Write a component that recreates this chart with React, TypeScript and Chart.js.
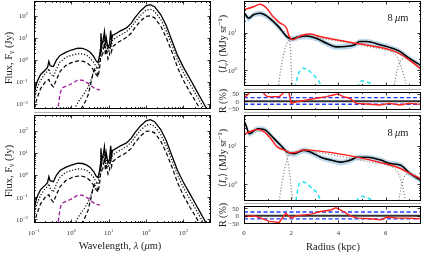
import React, { useEffect, useRef } from 'react';
import { Chart, registerables } from 'chart.js';
Chart.register(...registerables);

// ---------------- SED panels (left) ----------------
const wavelength = [0.1, 0.12, 0.15, 0.2, 0.23, 0.25, 0.27, 0.33, 0.4, 0.5, 0.7, 1, 1.5, 2, 2.6, 3.2, 4, 4.6, 5.2, 5.7, 6.0, 6.2, 6.6, 7, 7.7, 8.2, 8.6, 9.6, 10.5, 11.3, 12, 12.7, 14, 17, 20, 25, 30, 40, 50, 70, 100, 130, 170, 250, 350, 500, 700, 1000, 1500, 2000, 3000, 4000, 5000];
const fluxTotal = [0.03, 0.1, 0.22, 0.35, 0.45, 0.85, 0.55, 0.5, 1.0, 1.6, 2.2, 2.8, 3.4, 3.3, 2.8, 2.2, 1.4, 0.9, 0.75, 1.6, 3, 16, 5, 6.5, 19, 5, 10, 3.5, 5, 21, 8, 13, 14, 17, 20, 24, 28, 45, 80, 160, 280, 316, 255, 110, 35, 7, 1.6, 0.47, 0.14, 0.059, 0.017, 0.0072, 0.0037];
const fluxDotted = [0.016, 0.05, 0.12, 0.25, 0.3, 0.4, 0.25, 0.17, 0.4, 0.8, 1.3, 1.6, 1.9, 1.85, 1.6, 1.2, 0.75, 0.5, 0.4, 0.9, 1.9, 10, 3.2, 4.2, 11, 3.2, 6.3, 2.2, 3.2, 12, 5, 8, 9, 11, 13, 16, 19, 30, 50, 100, 178, 195, 158, 66, 20, 4.5, 1.0, 0.27, 0.08, 0.035, 0.0105, 0.0045, 0.0022];
const fluxDashed = [0.006, 0.018, 0.05, 0.1, 0.12, 0.13, 0.09, 0.06, 0.13, 0.3, 0.55, 0.75, 0.9, 0.88, 0.75, 0.55, 0.33, 0.22, 0.17, 0.4, 0.9, 4.5, 1.6, 2.0, 5.5, 1.6, 3.2, 1.1, 1.6, 6, 2.5, 4, 4.5, 6, 7, 8.5, 10.5, 16, 28, 56, 93, 98, 80, 33, 10, 2.2, 0.45, 0.12, 0.035, 0.016, 0.005, 0.0022, 0.0012];
const hotDotWave = [1.2, 1.6, 2.2, 2.9, 3.5, 4.0, 4.5, 5.0];
const hotDotFlux = [0.006, 0.014, 0.03, 0.063, 0.15, 0.35, 0.45, 0.4];
const hotDashWave = [1.8, 2.2, 2.8, 3.3, 3.7, 4.2, 4.8, 5.2];
const hotDashFlux = [0.006, 0.01, 0.025, 0.08, 0.2, 0.35, 0.3, 0.2];
const stellarWave = [0.42, 0.45, 0.5, 0.55, 0.65, 0.75, 0.9, 1.1, 1.5, 2.0, 2.4, 3.0, 3.8, 4.5, 5.8];
const stellarFlux = [0.004, 0.009, 0.03, 0.052, 0.06, 0.066, 0.075, 0.09, 0.125, 0.12, 0.105, 0.08, 0.058, 0.048, 0.044];

const waveMajor = [0.1, 1, 10, 100, 1000];
const fluxMajor = [0.01, 0.1, 1, 10, 100];

// ---------------- Radial profile panels (right) ----------------
const radiusObsTop = [0, 0.2, 0.4, 0.7, 1.0, 1.25, 1.5, 1.8, 2.0, 2.3, 2.65, 3.05, 3.5, 3.9, 4.3, 4.7, 4.9, 5.2, 5.75, 6.25, 6.6, 7.0, 7.5];
const obsTop = [34, 24, 29.5, 32.4, 26.3, 19.5, 13.5, 7.9, 6.8, 7.6, 8.1, 7.1, 5.2, 4.2, 4.3, 4.8, 5.8, 5.8, 4.8, 3.9, 3.2, 2.1, 1.35];
const errTop = [5.5, 4, 5, 5.5, 4.5, 3.3, 2.3, 1.3, 1.1, 1.3, 1.4, 1.2, 0.9, 0.7, 0.75, 0.85, 1.0, 1.0, 0.8, 0.65, 0.55, 0.35, 0.23];
const radiusModTop = [0, 0.4, 0.68, 0.96, 1.24, 1.52, 1.8, 1.91, 2.08, 2.37, 2.79, 3.21, 4.76, 6.2, 6.6, 7.0, 7.5];
const modTop = [40, 48, 56, 44, 26, 18, 13.2, 8.1, 6.5, 8.1, 9.1, 7.9, 5.2, 3.5, 2.75, 1.9, 1.1];
const radiusInnerTop = [1.7, 1.85, 1.94, 1.98, 2.01, 2.05];
const innerTop = [11, 7.5, 6.5, 2.5, 1.0, 0.35];
const radiusDiskTop = [1.45, 1.55, 1.65, 1.75, 1.85, 1.95, 2.2, 2.6, 3.0, 4.0, 5.0, 5.5, 6.0, 6.3, 6.5, 6.65, 6.8, 6.9];
const diskTop = [0.35, 1.0, 2.2, 4.0, 5.75, 6.9, 7.6, 7.9, 7.4, 5.9, 4.6, 4.0, 3.5, 2.95, 2.2, 1.26, 0.63, 0.35];
const radiusOuterTop = [6.35, 6.45, 6.55, 6.7, 6.85, 7.0, 7.25, 7.5];
const outerTop = [0.35, 0.8, 1.4, 2.0, 2.15, 1.86, 1.4, 1.05];
const radiusCyanATop = [2.15, 2.3, 2.4, 2.5, 2.65, 2.8, 3.0, 3.15, 3.3];
const cyanATop = [0.35, 0.8, 1.05, 1.15, 1.1, 0.93, 0.7, 0.54, 0.38];
const radiusCyanBTop = [4.8, 4.9, 5.04, 5.2, 5.35, 5.5];
const cyanBTop = [0.35, 0.48, 0.54, 0.5, 0.46, 0.38];
const radiusResTop = [0, 0.15, 0.3, 0.6, 0.8, 0.95, 1.1, 1.5, 1.66, 1.8, 1.91, 2.0, 2.22, 2.6, 3.07, 3.5, 3.78, 3.99, 4.2, 4.48, 4.76, 5.18, 5.75, 6.17, 6.6, 7.0, 7.5];
const resTop = [20, 45, 70, 75, 60, 35, 30, 32, 55, 75, 55, -14, -3, 8, 21, 32, 43, 50, 32, 21, -14, -18, -25, -14, -25, -14, -21];

const radiusObsBot = [0, 0.08, 0.23, 0.58, 0.86, 1.14, 1.42, 1.63, 1.84, 2.12, 2.54, 2.83, 3.25, 3.68, 4.1, 4.52, 4.8, 5.22, 5.79, 6.2, 6.62, 7.05, 7.5];
const obsBot = [45, 35, 21, 28, 27, 19, 12.6, 9.3, 6.9, 6.3, 7.8, 6.9, 5.1, 4.3, 3.8, 4.3, 5.1, 5.1, 4.3, 3.5, 3.2, 1.9, 1.26];
const errBot = [7.5, 6, 3.5, 4.8, 4.6, 3.2, 2.1, 1.6, 1.2, 1.1, 1.3, 1.2, 0.85, 0.75, 0.65, 0.75, 0.85, 0.85, 0.75, 0.6, 0.55, 0.32, 0.21];
const radiusModBot = [0, 0.23, 0.58, 0.86, 1.14, 1.42, 1.7, 1.98, 2.2, 2.54, 2.83, 6.2, 6.62, 7.05, 7.5];
const modBot = [20, 23.4, 27, 23.4, 15.5, 9.3, 7.9, 6.6, 6.9, 7.9, 7.8, 3.2, 2.6, 1.9, 1.4];
const radiusInnerBot = [1.6, 1.77, 1.86, 1.94, 2.0, 2.06];
const innerBot = [8.5, 6.9, 4.0, 1.8, 0.8, 0.36];
const radiusDiskBot = [1.49, 1.6, 1.7, 1.8, 1.91, 2.1, 2.5, 2.9, 4, 5, 5.6, 6.1, 6.4, 6.6, 6.72, 6.84];
const diskBot = [0.38, 1.0, 2.2, 4.0, 6.0, 6.6, 7.4, 7.2, 5.5, 4.2, 3.6, 3.2, 2.5, 1.6, 0.9, 0.38];
const radiusOuterBot = [6.56, 6.65, 6.75, 6.9, 7.05, 7.25, 7.5];
const outerBot = [0.38, 0.8, 1.4, 1.85, 1.85, 1.6, 1.3];
const radiusCyanABot = [2.2, 2.34, 2.48, 2.65, 2.83, 3.0, 3.11, 3.25];
const cyanABot = [0.38, 1.05, 1.15, 1.07, 0.85, 0.69, 0.58, 0.38];
const radiusCyanBBot = [4.75, 4.85, 5.01, 5.22, 5.38, 5.5];
const cyanBBot = [0.36, 0.43, 0.49, 0.45, 0.4, 0.38];
const radiusResBot = [0, 0.08, 0.44, 0.72, 1.07, 1.49, 1.77, 2.0, 2.2, 2.83, 3.25, 3.68, 3.89, 4.1, 4.52, 4.8, 5.37, 5.79, 6.07, 6.5, 6.92, 7.5];
const resBot = [-4, -4, 0, -15, -36, -43, 17, -15, 0, 11, 28, 38, 53, 38, 0, -15, -19, -26, -8, -15, -15, -19];

const radiusMajor = [0, 2, 4, 6];
const radiusMinor = [1, 3, 5, 7];
const intensityMajor = [1, 10];
const residualTicks = [-50, 0, 50];
const residualLimits = [25, -20];
const radiusRange = [0, 7.5];

// ---------------- drawing helpers ----------------
const W = 422, H = 253;
const SERIF = '"Liberation Serif", "DejaVu Serif", serif';
const TICK_SIZE = 6.8;
const TICK_COLOR = '#333';
const TEXT_COLOR = '#1a1a1a';

type Part = { t: string; s?: 'sub' | 'sup'; i?: boolean };

function drawRich(ctx: CanvasRenderingContext2D, parts: Part[], x: number, y: number, size: number, rot: number, align: string, color: string) {
  ctx.save();
  ctx.translate(x, y);
  if (rot) ctx.rotate(rot);
  const font = (p: Part) => `${p.i ? 'italic ' : ''}${p.s ? (size * 0.7).toFixed(1) : size}px ${SERIF}`;
  const ws = parts.map((p) => { ctx.font = font(p); return ctx.measureText(p.t).width; });
  const total = ws.reduce((a, b) => a + b, 0);
  let cx = align === 'center' ? -total / 2 : align === 'right' ? -total : 0;
  ctx.textBaseline = 'alphabetic';
  ctx.textAlign = 'left';
  ctx.fillStyle = color;
  const base = size * 0.35;
  parts.forEach((p, i) => {
    ctx.font = font(p);
    const dy = p.s === 'sub' ? size * 0.22 : p.s === 'sup' ? -size * 0.4 : 0;
    ctx.fillText(p.t, cx, base + dy);
    cx += ws[i];
  });
  ctx.restore();
}

function minorLog(lo: number, hi: number) {
  const out: number[] = [];
  for (let e = Math.floor(Math.log10(lo)); e <= Math.ceil(Math.log10(hi)); e++) {
    for (let k = 2; k <= 9; k++) {
      const v = k * Math.pow(10, e);
      if (v > lo && v < hi) out.push(v);
    }
  }
  return out;
}

const minus = (n: number) => (n < 0 ? '\u2212' + Math.abs(n) : String(n));
function fmtTick(v: number, log: boolean): Part[] {
  if (log) return [{ t: '10' }, { t: minus(Math.round(Math.log10(v))), s: 'sup' }];
  return [{ t: minus(v) }];
}

const decorPlugin = {
  id: 'decor',
  afterDatasetsDraw(chart: any, _a: any, o: any) {
    const ctx = chart.ctx as CanvasRenderingContext2D;
    const a = chart.chartArea;
    const xs = chart.scales.x, ys = chart.scales.y;
    const L = a.left, R = a.right, T = a.top, B = a.bottom;
    ctx.save();
    const seg = (x1: number, y1: number, x2: number, y2: number) => { ctx.beginPath(); ctx.moveTo(x1, y1); ctx.lineTo(x2, y2); ctx.stroke(); };
    for (const h of o.hlines || []) { ctx.strokeStyle = h.c; ctx.lineWidth = 1; seg(h.x1, h.y + 0.5, h.x2, h.y + 0.5); }
    ctx.strokeStyle = '#000';
    ctx.lineWidth = 0.8;
    const list = (s: any) => [...s.major.map((v: number) => [v, 3.5]), ...s.minor.map((v: number) => [v, 2])];
    for (const [v, len] of list(o.xAxis)) {
      const p = Math.round(xs.getPixelForValue(v)) + 0.5;
      if (p <= L + 1 || p >= R - 1) continue;
      seg(p, B, p, B - len); seg(p, T, p, T + len);
    }
    for (const [v, len] of list(o.yAxis)) {
      const p = Math.round(ys.getPixelForValue(v)) + 0.5;
      if (p <= T + 1 || p >= B - 1) continue;
      seg(L, p, L + len, p); seg(R, p, R - len, p);
    }
    ctx.lineWidth = 1;
    ctx.strokeRect(L + 0.5, T + 0.5, R - L - 1, B - T - 1);
    if (o.xAxis.labels) for (const v of o.xAxis.major) drawRich(ctx, fmtTick(v, o.xAxis.log), xs.getPixelForValue(v), B + o.xAxis.pad, TICK_SIZE, 0, 'center', TICK_COLOR);
    if (o.yAxis.labels) for (const v of o.yAxis.major) drawRich(ctx, fmtTick(v, o.yAxis.log), L - o.yAxis.pad, ys.getPixelForValue(v), TICK_SIZE, 0, 'right', TICK_COLOR);
    for (const tx of o.texts || []) drawRich(ctx, tx.parts, tx.x, tx.y, tx.size, tx.rot || 0, 'center', TEXT_COLOR);
    ctx.restore();
  },
};

const pts = (xs: number[], ys: number[]) => xs.map((x, i) => ({ x, y: ys[i] }));
const ln = (data: any[], color: string, width: number, dash: number[] = [], extra: any = {}) => ({
  data, borderColor: color, borderWidth: width, borderDash: dash, pointRadius: 0, fill: false, ...extra,
});

type Rect = { l: number; t: number; r: number; b: number };
function makeChart(canvas: HTMLCanvasElement, rect: Rect, x: any, y: any, datasets: any[], decor: any) {
  return new Chart(canvas, {
    type: 'line',
    data: { datasets },
    options: {
      responsive: false,
      animation: false,
      events: [],
      layout: { padding: { left: rect.l, top: rect.t, right: W - rect.r, bottom: H - rect.b } },
      plugins: { legend: { display: false }, tooltip: { enabled: false }, decor } as any,
      scales: { x: { ...x, display: false }, y: { ...y, display: false } },
      elements: { point: { radius: 0 } },
    },
    plugins: [decorPlugin],
  } as any);
}

const fluxTitle: Part[] = [{ t: 'Flux, F' }, { t: '\u03bd', s: 'sub' }, { t: ' (Jy)' }];
const waveTitle: Part[] = [{ t: 'Wavelength, ' }, { t: '\u03bb', i: true }, { t: ' (' }, { t: '\u03bc', i: true }, { t: 'm)' }];
const intTitle: Part[] = [{ t: '\u27e8' }, { t: 'I', i: true }, { t: '\u03bd', s: 'sub', i: true }, { t: '\u27e9 (MJy sr' }, { t: '\u22121', s: 'sup' }, { t: ')' }];
const resTitle: Part[] = [{ t: 'R (%)' }];
const bandTitle: Part[] = [{ t: '8\u2009' }, { t: '\u03bc', i: true }, { t: 'm' }];
const radTitle: Part[] = [{ t: 'Radius (kpc)' }];
const ROT = -Math.PI / 2;
const GREY = '#b4b4b4';

function sedDatasets() {
  return [
    ln(pts(wavelength, fluxTotal), '#000', 1.3),
    ln(pts(wavelength, fluxDotted), '#000', 1.2, [1.2, 1.8]),
    ln(pts(wavelength, fluxDashed), '#000', 1.2, [4, 2.5]),
    ln(pts(hotDotWave, hotDotFlux), '#000', 1.2, [1.2, 1.8]),
    ln(pts(hotDashWave, hotDashFlux), '#000', 1.2, [4, 2.5]),
    ln(pts(stellarWave, stellarFlux), '#9a1a9a', 1.3, [4, 2.5]),
  ];
}

function profileDatasets(rObs: number[], obs: number[], err: number[], rMod: number[], mod: number[], rIn: number[], inn: number[], rDisk: number[], disk: number[], rOut: number[], out: number[], rCa: number[], ca: number[], rCb: number[], cb: number[]) {
  const hi = obs.map((v, i) => v + err[i]);
  const lo = obs.map((v, i) => v - err[i]);
  const mono = { cubicInterpolationMode: 'monotone' };
  return [
    ln(pts(rObs, hi), 'rgba(0,0,0,0)', 0, [], { fill: '+1', backgroundColor: 'rgba(170,205,228,0.8)', order: 10, ...mono }),
    ln(pts(rObs, lo), 'rgba(0,0,0,0)', 0, [], { order: 11, ...mono }),
    ln(pts(rObs, obs), '#000', 1.6, [], { order: 1, ...mono }),
    ln(pts(rMod, mod), '#ff1f1f', 1.5, [], { order: 0, ...mono }),
    ln(pts(rIn, inn), '#8c8c8c', 1.2, [1.2, 1.8], { order: 3, ...mono }),
    ln(pts(rDisk, disk), '#8c8c8c', 1.2, [1.2, 1.8], { order: 3, ...mono }),
    ln(pts(rOut, out), '#8c8c8c', 1.2, [1.2, 1.8], { order: 3, ...mono }),
    ln(pts(rCa, ca), '#1ee3ee', 1.5, [4, 3], { order: 2, ...mono }),
    ln(pts(rCb, cb), '#1ee3ee', 1.5, [4, 3], { order: 2, ...mono }),
  ];
}

function residualDatasets(r: number[], res: number[]) {
  const span = radiusRange;
  return [
    ln(pts(r, res), '#ff1f1f', 1.4, [], { order: 0 }),
    ln(pts(span, [residualLimits[0], residualLimits[0]]), '#1f3cff', 1.3, [4, 2.5], { order: 1 }),
    ln(pts(span, [residualLimits[1], residualLimits[1]]), '#1f3cff', 1.3, [4, 2.5], { order: 1 }),
    ln(pts(span, [0, 0]), '#333', 2, [], { order: 2 }),
  ];
}

export default function App() {
  const refs = [useRef<HTMLCanvasElement>(null), useRef<HTMLCanvasElement>(null), useRef<HTMLCanvasElement>(null), useRef<HTMLCanvasElement>(null), useRef<HTMLCanvasElement>(null), useRef<HTMLCanvasElement>(null)];

  useEffect(() => {
    const waveX = { type: 'logarithmic', min: 0.1, max: 5500 };
    const waveAxis = (labels: boolean) => ({ major: waveMajor, minor: minorLog(0.1, 5500), labels, log: true, pad: 9.5 });
    const fluxAxis = (lo: number, hi: number) => ({ major: fluxMajor, minor: minorLog(lo, hi), labels: true, log: true, pad: 6 });
    const radX = { type: 'linear', min: radiusRange[0], max: radiusRange[1] };
    const radAxis = (labels: boolean) => ({ major: radiusMajor, minor: radiusMinor, labels, log: false, pad: 8.7 });
    const intAxis = (lo: number, hi: number) => ({ major: intensityMajor, minor: minorLog(lo, hi), labels: true, log: true, pad: 7 });
    const resAxis = { major: residualTicks, minor: [], labels: true, log: false, pad: 5 };
    const rightLines = [
      { x1: 244, x2: 421, y: 89, c: GREY },
      { x1: 244, x2: 421, y: 112, c: GREY },
      { x1: 244, x2: 421, y: 203, c: GREY },
    ];

    const charts = [
      makeChart(refs[0].current!, { l: 34, t: 1, r: 211, b: 109 }, waveX, { type: 'logarithmic', min: 0.006, max: 462 }, sedDatasets(), {
        xAxis: waveAxis(false), yAxis: fluxAxis(0.006, 462),
        texts: [{ parts: fluxTitle, x: 8, y: 58, size: 10.5, rot: ROT }],
        hlines: [{ x1: 34, x2: 211, y: 112, c: GREY }],
      }),
      makeChart(refs[1].current!, { l: 34, t: 115, r: 211, b: 223 }, waveX, { type: 'logarithmic', min: 0.0068, max: 512 }, sedDatasets(), {
        xAxis: waveAxis(true), yAxis: fluxAxis(0.0068, 512),
        texts: [
          { parts: fluxTitle, x: 8, y: 171, size: 10.5, rot: ROT },
          { parts: waveTitle, x: 120, y: 245, size: 10.5 },
        ],
      }),
      makeChart(refs[2].current!, { l: 244, t: 1, r: 421, b: 86 }, radX, { type: 'logarithmic', min: 0.39, max: 68 },
        profileDatasets(radiusObsTop, obsTop, errTop, radiusModTop, modTop, radiusInnerTop, innerTop, radiusDiskTop, diskTop, radiusOuterTop, outerTop, radiusCyanATop, cyanATop, radiusCyanBTop, cyanBTop), {
        xAxis: radAxis(false), yAxis: intAxis(0.39, 68),
        texts: [
          { parts: intTitle, x: 222, y: 44, size: 10, rot: ROT },
          { parts: bandTitle, x: 398, y: 17, size: 10.5 },
        ],
        hlines: rightLines,
      }),
      makeChart(refs[3].current!, { l: 244, t: 92, r: 421, b: 110 }, radX, { type: 'linear', min: -59, max: 63 }, residualDatasets(radiusResTop, resTop), {
        xAxis: radAxis(false), yAxis: resAxis,
        texts: [{ parts: resTitle, x: 222, y: 101, size: 10, rot: ROT }],
      }),
      makeChart(refs[4].current!, { l: 244, t: 115, r: 421, b: 201 }, radX, { type: 'logarithmic', min: 0.37, max: 64 },
        profileDatasets(radiusObsBot, obsBot, errBot, radiusModBot, modBot, radiusInnerBot, innerBot, radiusDiskBot, diskBot, radiusOuterBot, outerBot, radiusCyanABot, cyanABot, radiusCyanBBot, cyanBBot), {
        xAxis: radAxis(false), yAxis: intAxis(0.37, 64),
        texts: [
          { parts: intTitle, x: 222, y: 158, size: 10, rot: ROT },
          { parts: bandTitle, x: 398, y: 132, size: 10.5 },
        ],
      }),
      makeChart(refs[5].current!, { l: 244, t: 206, r: 421, b: 224 }, radX, { type: 'linear', min: -53, max: 64 }, residualDatasets(radiusResBot, resBot), {
        xAxis: radAxis(true), yAxis: resAxis,
        texts: [
          { parts: resTitle, x: 222, y: 215, size: 10, rot: ROT },
          { parts: radTitle, x: 333, y: 246, size: 10.5 },
        ],
      }),
    ];
    return () => charts.forEach((c) => c.destroy());
  }, []);

  return (
    <div style={{ position: 'fixed', left: 0, top: 0, width: W, height: H, background: '#fff' }}>
      {refs.map((r, i) => (
        <canvas key={i} ref={r} width={W} height={H} style={{ position: 'absolute', left: 0, top: 0, width: W, height: H }} />
      ))}
    </div>
  );
}
